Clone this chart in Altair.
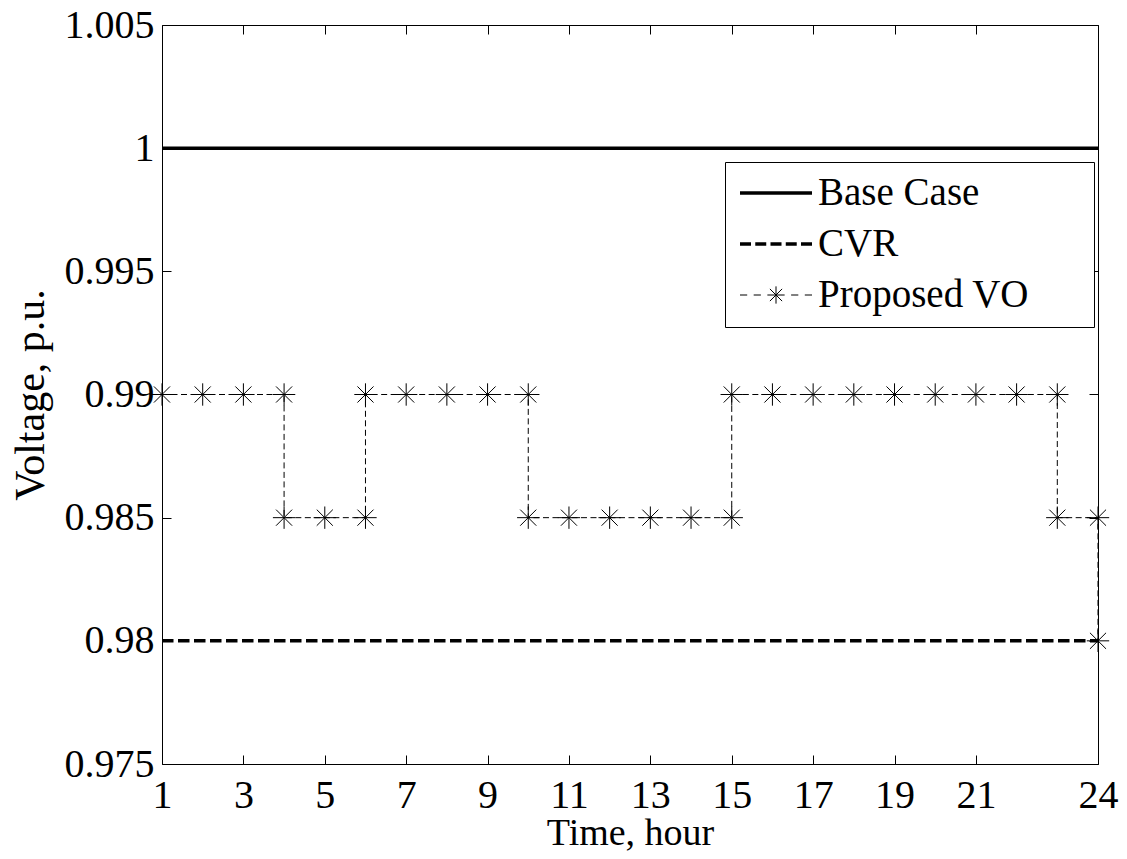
import altair as alt
import pandas as pd

# ---------------- data ----------------
hours = [1, 2, 3, 4, 5, 6, 7, 8, 9, 10, 11, 12, 13, 14, 15, 16, 17, 18, 19, 20, 21, 22, 23, 24]
base_volt = [1.0, 1.0, 1.0, 1.0, 1.0, 1.0, 1.0, 1.0, 1.0, 1.0, 1.0, 1.0,
             1.0, 1.0, 1.0, 1.0, 1.0, 1.0, 1.0, 1.0, 1.0, 1.0, 1.0, 1.0]
cvr_volt = [0.98, 0.98, 0.98, 0.98, 0.98, 0.98, 0.98, 0.98, 0.98, 0.98, 0.98, 0.98,
            0.98, 0.98, 0.98, 0.98, 0.98, 0.98, 0.98, 0.98, 0.98, 0.98, 0.98, 0.98]
vo_hour = [1, 2, 3, 4, 4, 5, 6, 6, 7, 8, 9, 10, 10, 11, 12, 13, 14, 15, 15,
           16, 17, 18, 19, 20, 21, 22, 23, 23, 24, 24]
vo_volt = [0.99, 0.99, 0.99, 0.99, 0.985, 0.985, 0.985, 0.99, 0.99, 0.99, 0.99, 0.99,
           0.985, 0.985, 0.985, 0.985, 0.985, 0.985, 0.99,
           0.99, 0.99, 0.99, 0.99, 0.99, 0.99, 0.99, 0.99, 0.985, 0.985, 0.98]
x_ticks = [1, 3, 5, 7, 9, 11, 13, 15, 17, 19, 21, 24]
y_ticks = [0.975, 0.98, 0.985, 0.99, 0.995, 1.0, 1.005]
series_names = ["Base Case", "CVR", "Proposed VO"]

# ---------------- styling ----------------
FONT = "Liberation Serif"
W, H = 936, 739

STAR = "M-1,0L1,0M0,-1L0,1M-0.72,-0.72L0.72,0.72M-0.72,0.72L0.72,-0.72"
P_BASE = "M-1,0L1,0"
P_CVR = ("M-1,0L-0.694,0M-0.576,0L-0.271,0M-0.153,0L0.153,0"
         "M0.271,0L0.576,0M0.694,0L1,0")
P_VO = ("M-1,0L-0.8,0M-0.62,0L-0.42,0M0.42,0L0.62,0M0.8,0L1,0"
        "M-0.24,0L0.24,0M0,-0.24L0,0.24M-0.17,-0.17L0.17,0.17M-0.17,0.17L0.17,-0.17")

base_df = pd.DataFrame({"hour": hours, "volt": base_volt})
cvr_df = pd.DataFrame({"hour": hours, "volt": cvr_volt})
vo_df = pd.DataFrame({"idx": list(range(len(vo_hour))), "hour": vo_hour, "volt": vo_volt})
leg_df = pd.DataFrame({"series": series_names})

xs = alt.Scale(domain=[1, 24], nice=False, zero=False)
ys = alt.Scale(domain=[0.975, 1.005], nice=False, zero=False)

x_main = alt.Axis(values=x_ticks, format="d", ticks=False, tickSize=0, domain=False,
                  grid=False, labelFont=FONT, labelFontSize=40, labelColor="black",
                  labelPadding=11, labelFlush=False, labelOverlap=False,
                  title="Time, hour", titleFont=FONT, titleFontSize=38,
                  titleFontWeight="normal", titleColor="black", titlePadding=-1)
y_main = alt.Axis(values=y_ticks, format=".4~g", ticks=False, tickSize=0, domain=False,
                  grid=False, labelFont=FONT, labelFontSize=40, labelColor="black",
                  labelPadding=8, labelFlush=False, labelOverlap=False,
                  title="Voltage, p.u.", titleFont=FONT, titleFontSize=42,
                  titleFontWeight="normal", titleColor="black", titlePadding=12)


def tick_axis(orient, offset, values):
    return alt.Axis(orient=orient, offset=offset, values=values, labels=False,
                    domain=False, grid=False, ticks=True, tickSize=9,
                    tickColor="black", tickWidth=1, title=None)


base = alt.Chart(base_df).mark_line(color="black", strokeWidth=3.5).encode(
    x=alt.X("hour:Q", scale=xs, axis=x_main),
    y=alt.Y("volt:Q", scale=ys, axis=y_main),
)
cvr = alt.Chart(cvr_df).mark_line(color="black", strokeWidth=3.5,
                                  strokeDash=[11.5, 4.5]).encode(
    x=alt.X("hour:Q", scale=xs, axis=tick_axis("top", -H, x_ticks)),
    y=alt.Y("volt:Q", scale=ys, axis=tick_axis("right", -W, y_ticks)),
)
vo_line = alt.Chart(vo_df).mark_line(color="black", strokeWidth=1,
                                     strokeDash=[6, 3.5]).encode(
    x=alt.X("hour:Q", scale=xs, axis=tick_axis("bottom", -H, x_ticks)),
    y=alt.Y("volt:Q", scale=ys, axis=tick_axis("left", -W, y_ticks)),
    order=alt.Order("idx:Q"),
)
vo_pts = alt.Chart(vo_df).mark_point(shape=STAR, size=500, filled=False, color="black",
                                     strokeWidth=1, opacity=1).encode(
    x=alt.X("hour:Q", scale=xs, axis=None),
    y=alt.Y("volt:Q", scale=ys, axis=None),
)

# the legend "title" is a tiny white dot on the right, used only to give the
# box the same extra room on its right side as the reference
legend_def = alt.Legend(
    title=".", titleOrient="right", titleFontSize=6, titleColor="white",
    titlePadding=51,
    orient="none", legendX=563, legendY=137, direction="vertical",
    padding=12, clipHeight=38, rowPadding=12, symbolSize=5184, symbolOffset=1,
    labelOffset=4, labelFont=FONT, labelFontSize=39, labelColor="black",
    labelLimit=600,
    strokeColor="black", fillColor="white",
    symbolStrokeColor="black", symbolFillColor="transparent",
)
legend_layer = alt.Chart(leg_df).transform_filter("false").mark_point(
    filled=False, color="black", opacity=1).encode(
    shape=alt.Shape("series:N",
                    scale=alt.Scale(domain=series_names, range=[P_BASE, P_CVR, P_VO]),
                    legend=legend_def),
    strokeWidth=alt.StrokeWidth("series:N",
                                scale=alt.Scale(type="ordinal", domain=series_names,
                                                range=[3.5, 3.5, 1]),
                                legend=legend_def),
)

chart = alt.layer(base, cvr, vo_line, vo_pts, legend_layer).resolve_axis(
    x="independent", y="independent"
).properties(
    width=W, height=H,
    autosize=alt.AutoSizeParams(type="none"),
    padding={"left": 154, "top": 17, "right": 21, "bottom": 87},
    background="white",
).configure_view(stroke="black", strokeWidth=1)

chart.save("out.html", embed_options={"renderer": "svg", "actions": False})
